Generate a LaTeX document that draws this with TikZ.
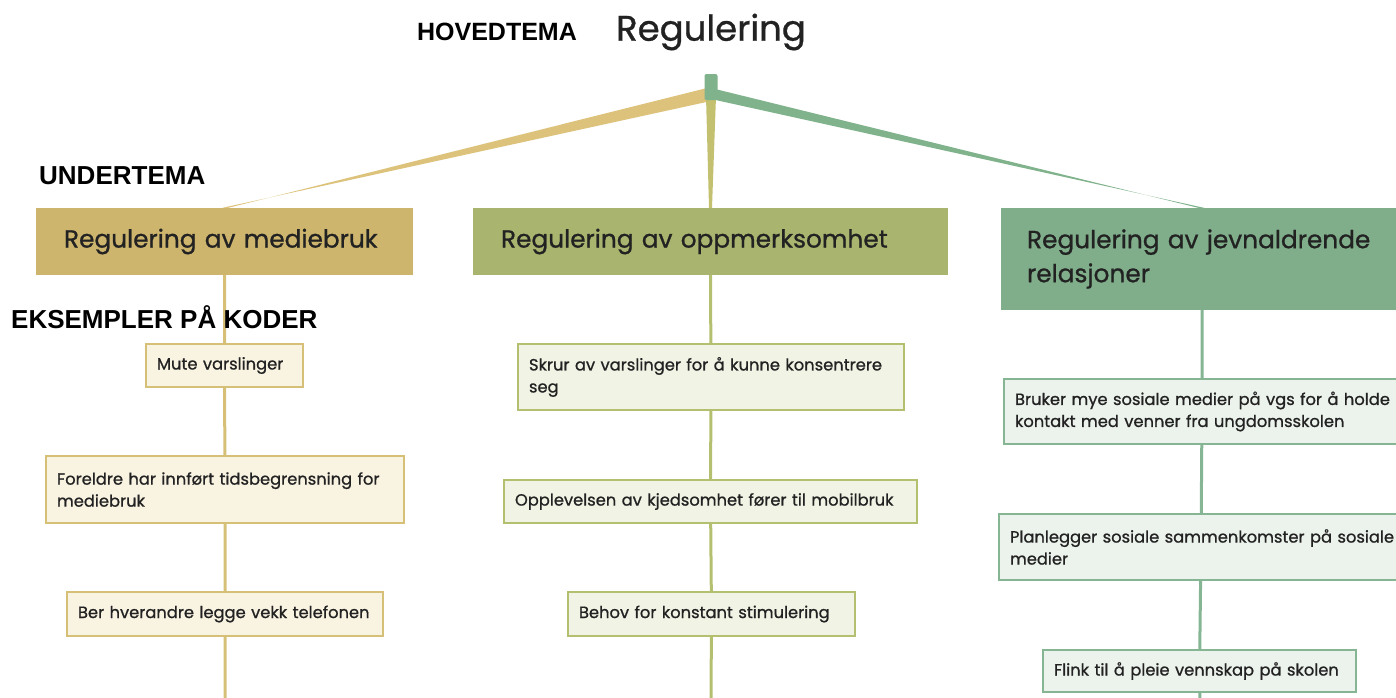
\documentclass[tikz,border=0pt]{standalone}
\usepackage{fontspec}
\setmainfont{Poppins}[FakeBold=0.9]
\newfontfamily\arialfont{Liberation Sans}
\usetikzlibrary{backgrounds,calc}
\definecolor{txt}{HTML}{222222}
\definecolor{tanfill}{HTML}{CDB56E}
\definecolor{olivefill}{HTML}{A9B56F}
\definecolor{greenfill}{HTML}{80AE8A}
\definecolor{tanline}{HTML}{D6C078}
\definecolor{oliveline}{HTML}{B4C070}
\definecolor{greenline}{HTML}{85B592}
\definecolor{tanlight}{HTML}{F9F3E2}
\definecolor{olivelight}{HTML}{F1F3E5}
\definecolor{greenlight}{HTML}{ECF3EC}
\definecolor{tanwedge}{HTML}{DCC27A}
\definecolor{greenwedge}{HTML}{80B28C}
\definecolor{centerwedge}{HTML}{C3C070}
\begin{document}
\begin{tikzpicture}[x=1pt,y=-1pt,
  hdr/.style={font=\arialfont\bfseries\fontsize{26}{30}\selectfont, text=black, inner sep=0},
  subbox/.style={inner sep=0, align=left, text=txt, font=\fontsize{24.8}{34}\selectfont},
  codebox/.style={inner sep=0, align=left, text=txt, line width=2.5pt, font=\fontsize{16.3}{22}\selectfont},
  conn/.style={line width=3pt, line cap=round}
]
\useasboundingbox (0,0) rectangle (1396,697);

% headings
\node[hdr, font=\arialfont\bfseries\fontsize{25}{30}\selectfont] (hoved) at (497,32) {HOVEDTEMA};
\node[inner sep=0, text=txt, font=\fontsize{35.5}{40}\selectfont] (title) at (711,32) {Regulering};
\node[hdr, anchor=west] (under) at (39,176) {UNDERTEMA};
\node[hdr, anchor=west] (eks) at (11,317) {EKSEMPLER PÅ KODER};

% root junction
\node[fill=greenwedge, rounded corners=2pt, minimum width=13pt, minimum height=26pt, inner sep=0] (root) at (711,87) {};

% sub themes
\node[subbox, fill=tanfill, minimum width=377pt, minimum height=67pt, text width=321pt] (sub1) at (224.5,241.5) {Regulering av mediebruk};
\node[subbox, fill=olivefill, minimum width=475pt, minimum height=67pt, text width=419pt] (sub2) at (710.5,241.5) {Regulering av oppmerksomhet};
\node[subbox, fill=greenfill, minimum width=402pt, minimum height=102pt, text width=350pt] (sub3) at (1202,259) {\mbox{Regulering av jevnaldrende}\\relasjoner};

% code boxes column 1
\node[codebox, draw=tanline, fill=tanlight, minimum width=157pt, minimum height=43pt, text width=135pt] (c1a) at (224.5,365.5) {\mbox{Mute varslinger}};
\node[codebox, draw=tanline, fill=tanlight, minimum width=358pt, minimum height=67pt, text width=336pt] (c1b) at (225,489.5) {\mbox{Foreldre har innført tidsbegrensning for}\\mediebruk};
\node[codebox, draw=tanline, fill=tanlight, minimum width=316pt, minimum height=44pt, text width=294pt] (c1c) at (225,614) {\mbox{Ber hverandre legge vekk telefonen}};

% code boxes column 2
\node[codebox, draw=oliveline, fill=olivelight, minimum width=386pt, minimum height=66pt, text width=364pt] (c2a) at (711,377) {\mbox{Skrur av varslinger for å kunne konsentrere}\\seg};
\node[codebox, draw=oliveline, fill=olivelight, minimum width=413pt, minimum height=43pt, text width=391pt] (c2b) at (710.5,501.5) {\mbox{Opplevelsen av kjedsomhet fører til mobilbruk}};
\node[codebox, draw=oliveline, fill=olivelight, minimum width=287pt, minimum height=44pt, text width=265pt] (c2c) at (711.5,614) {\mbox{Behov for konstant stimulering}};

% code boxes column 3
\node[codebox, draw=greenline, fill=greenlight, minimum width=396pt, minimum height=65pt, text width=374pt] (c3a) at (1202,411.5) {\mbox{Bruker mye sosiale medier på vgs for å holde}\\\mbox{kontakt med venner fra ungdomsskolen}};
\node[codebox, draw=greenline, fill=greenlight, minimum width=404pt, minimum height=66pt, text width=382pt] (c3b) at (1201,547) {\mbox{Planlegger sosiale sammenkomster på sosiale}\\medier};
\node[codebox, draw=greenline, fill=greenlight, minimum width=313pt, minimum height=42pt, text width=291pt] (c3c) at (1199.5,671) {\mbox{Flink til å pleie vennskap på skolen}};

\coordinate (end1) at (225,700);
\coordinate (end2) at (711,700);
\coordinate (end3) at (1200,700);

\begin{scope}[on background layer]
  % wedges from root to sub themes
  \fill[tanwedge] ($(root.center)+(0,0)$) -- ($(root.center)+(0,14)$) -- ($(sub1.north)+(-2,0)$) -- ($(sub1.north)+(4,0)$) -- cycle;
  \fill[greenwedge] ($(root.center)+(0,1)$) -- ($(root.center)+(0,12)$) -- ($(sub3.north)+(2,0)$) -- ($(sub3.north)+(-4,0)$) -- cycle;
  \fill[centerwedge] ($(root.south)+(-5,-4)$) -- ($(root.south)+(5,-4)$) -- ($(sub2.north)+(1.5,0)$) -- ($(sub2.north)+(-1.5,0)$) -- cycle;
  % vertical connectors
  \draw[conn, draw=tanline] (sub1.south) -- (c1a) -- (c1b) -- (c1c) -- (end1);
  \draw[conn, draw=oliveline] (sub2.south) -- (c2a) -- (c2b) -- (c2c) -- (end2);
  \draw[conn, draw=greenline] (sub3.south) -- (c3a) -- (c3b) -- (c3c) -- (end3);
\end{scope}
\end{tikzpicture}
\end{document}
